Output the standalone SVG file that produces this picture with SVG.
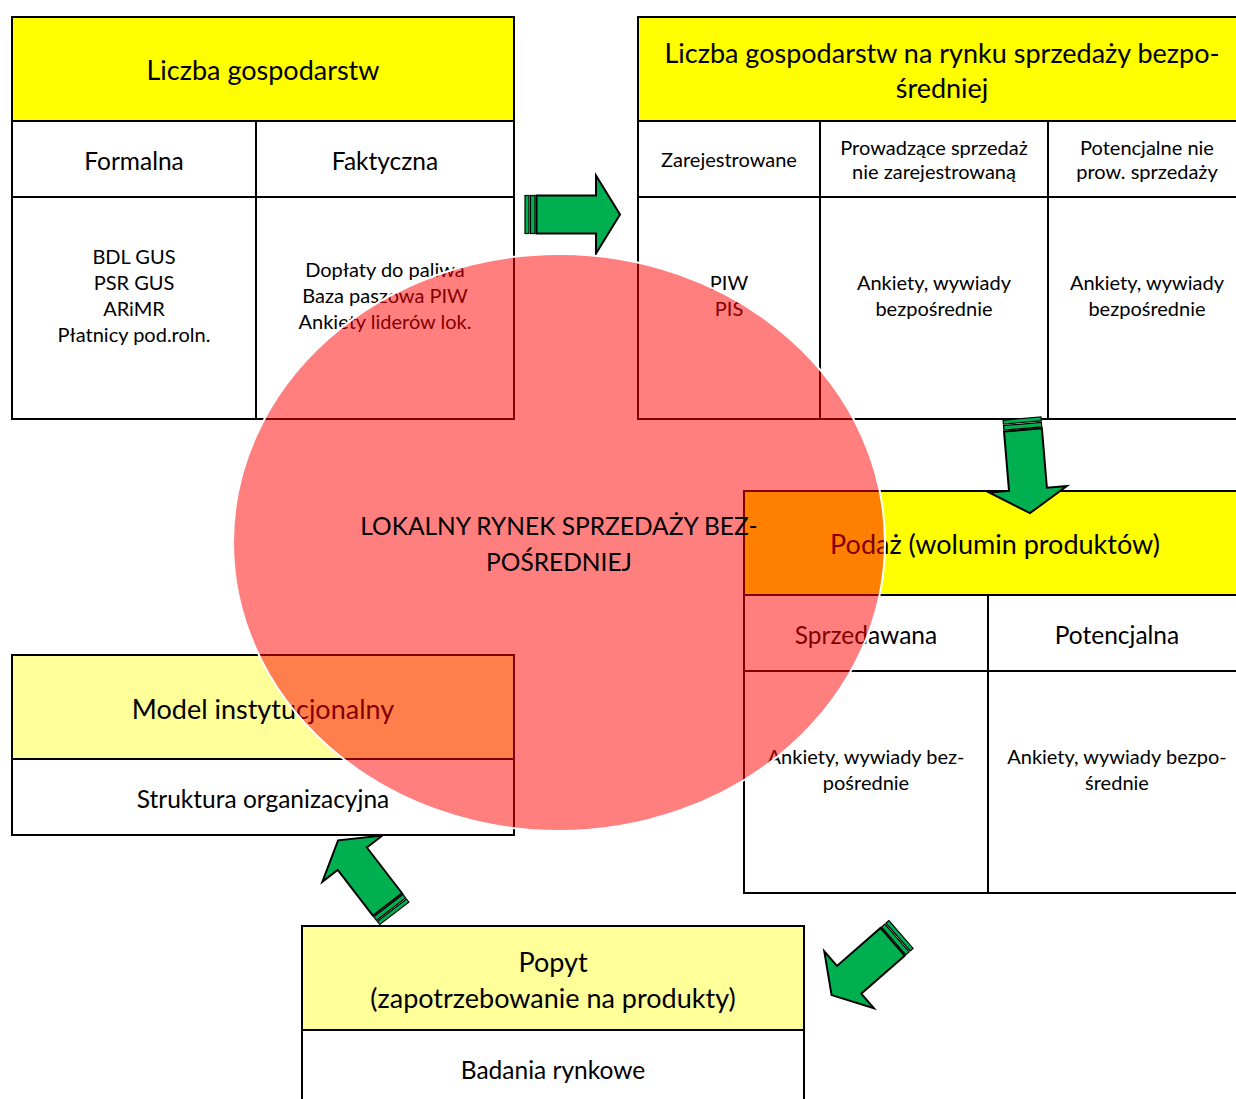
<svg xmlns="http://www.w3.org/2000/svg" width="1236" height="1099" viewBox="0 0 1236 1099">
<defs>
<style>
.cell{fill:#fff;stroke:#000;stroke-width:2}
.hy{fill:#ffff00;stroke:#000;stroke-width:2}
.hl{fill:#ffff99;stroke:#000;stroke-width:2}
text{font-family:Lato,"Liberation Sans",sans-serif;fill:#000;text-anchor:middle;dominant-baseline:central}
.t1{font-size:27px}
.t2{font-size:24.5px}
.t3{font-size:20px}
.ar{fill:#00b050;stroke:#000;stroke-width:2;stroke-linejoin:miter}
.st{fill:#00b050;stroke:#000;stroke-width:1.2}
</style>
<g id="arrow">
<rect class="st" x="0" y="-19" width="4" height="38"/>
<rect class="st" x="5.5" y="-19" width="4.5" height="38"/>
<polygon class="ar" points="11.5,-19 71,-19 71,-39 95,0 71,39 71,19 11.5,19"/>
</g>
</defs>
<rect width="1236" height="1099" fill="#fff"/>

<g id="liczba-gospodarstw">
<rect class="hy" x="12" y="17" width="502" height="104"/>
<rect class="cell" x="12" y="121" width="244" height="76"/>
<rect class="cell" x="256" y="121" width="258" height="76"/>
<rect class="cell" x="12" y="197" width="244" height="222"/>
<rect class="cell" x="256" y="197" width="258" height="222"/>
<text class="t1" x="263" y="69">Liczba gospodarstw</text>
<text class="t2" x="134" y="160">Formalna</text>
<text class="t2" x="385" y="160">Faktyczna</text>
<text class="t3" x="134" y="256">BDL GUS</text>
<text class="t3" x="134" y="282">PSR GUS</text>
<text class="t3" x="134" y="308">ARiMR</text>
<text class="t3" x="134" y="334">Płatnicy pod.roln.</text>
<text class="t3" x="385" y="269">Dopłaty do paliwa</text>
<text class="t3" x="385" y="295">Baza paszowa PIW</text>
<text class="t3" x="385" y="321">Ankiety liderów lok.</text>
</g>

<g id="rynek-sprzedazy">
<rect class="hy" x="638" y="17" width="604" height="104"/>
<rect class="cell" x="638" y="121" width="182" height="76"/>
<rect class="cell" x="820" y="121" width="228" height="76"/>
<rect class="cell" x="1048" y="121" width="194" height="76"/>
<rect class="cell" x="638" y="197" width="182" height="222"/>
<rect class="cell" x="820" y="197" width="228" height="222"/>
<rect class="cell" x="1048" y="197" width="194" height="222"/>
<text class="t1" x="942" y="52">Liczba gospodarstw na rynku sprzedaży bezpo-</text>
<text class="t1" x="942" y="87">średniej</text>
<text class="t3" x="729" y="159">Zarejestrowane</text>
<text class="t3" x="934" y="147">Prowadzące sprzedaż</text>
<text class="t3" x="934" y="171">nie zarejestrowaną</text>
<text class="t3" x="1147" y="147">Potencjalne nie</text>
<text class="t3" x="1147" y="171">prow. sprzedaży</text>
<text class="t3" x="729" y="282">PIW</text>
<text class="t3" x="729" y="308">PIS</text>
<text class="t3" x="934" y="282">Ankiety, wywiady</text>
<text class="t3" x="934" y="308">bezpośrednie</text>
<text class="t3" x="1147" y="282">Ankiety, wywiady</text>
<text class="t3" x="1147" y="308">bezpośrednie</text>
</g>

<g id="podaz">
<rect class="hy" x="744" y="491" width="498" height="104"/>
<rect class="cell" x="744" y="595" width="244" height="76"/>
<rect class="cell" x="988" y="595" width="254" height="76"/>
<rect class="cell" x="744" y="671" width="244" height="222"/>
<rect class="cell" x="988" y="671" width="254" height="222"/>
<text class="t1" x="995" y="543">Podaż (wolumin produktów)</text>
<text class="t2" x="866" y="634">Sprzedawana</text>
<text class="t2" x="1117" y="634">Potencjalna</text>
<text class="t3" x="866" y="756">Ankiety, wywiady bez-</text>
<text class="t3" x="866" y="782">pośrednie</text>
<text class="t3" x="1117" y="756">Ankiety, wywiady bezpo-</text>
<text class="t3" x="1117" y="782">średnie</text>
</g>

<g id="model-instytucjonalny">
<rect class="hl" x="12" y="655" width="502" height="104"/>
<rect class="cell" x="12" y="759" width="502" height="76"/>
<text class="t1" x="263" y="708">Model instytucjonalny</text>
<text class="t2" x="263" y="798">Struktura organizacyjna</text>
</g>

<g id="popyt">
<rect class="hl" x="302" y="926" width="502" height="104"/>
<rect class="cell" x="302" y="1030" width="502" height="80"/>
<text class="t1" x="553" y="961">Popyt</text>
<text class="t1" x="553" y="997">(zapotrzebowanie na produkty)</text>
<text class="t2" x="553" y="1069">Badania rynkowe</text>
</g>

<g id="connectors">
<use href="#arrow" transform="translate(525,214.5)"/>
<use href="#arrow" transform="translate(1022,418.5) rotate(85.2)"/>
<use href="#arrow" transform="translate(394.3,913.3) rotate(-127.6) scale(0.97)"/>
<use href="#arrow" transform="translate(901,934.5) rotate(138.9) scale(0.97)"/>
</g>

<g id="lokalny-rynek">
<ellipse cx="559" cy="542.5" rx="326" ry="288.5" fill="#ff0000" fill-opacity="0.5" stroke="#fff" stroke-width="2"/>
<text class="t2" x="559" y="525">LOKALNY RYNEK SPRZEDAŻY BEZ-</text>
<text class="t2" x="559" y="561">POŚREDNIEJ</text>
</g>
</svg>
